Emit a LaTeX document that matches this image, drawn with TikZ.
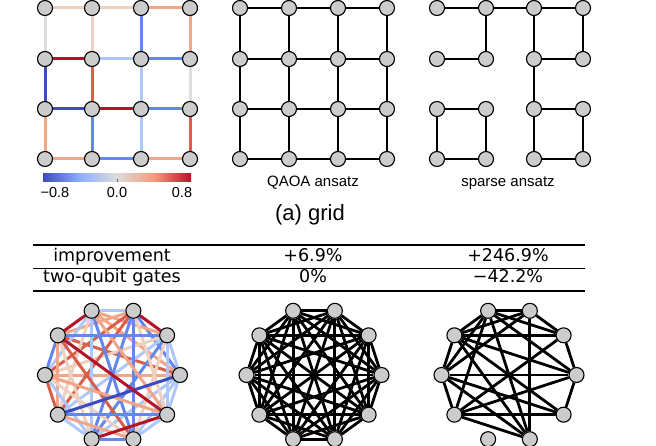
\documentclass[tikz,border=0pt]{standalone}
\usepackage{fontspec}
\setmainfont{Liberation Sans}
\newfontfamily\tabfont{DejaVu Sans}
\usetikzlibrary{backgrounds}
\definecolor{cwBiii}{RGB}{59,76,192}
\definecolor{cwBii}{RGB}{100,135,235}
\definecolor{cwBi}{RGB}{175,200,250}
\definecolor{cwBmid}{RGB}{141,176,254}
\definecolor{cwO}{RGB}{221,221,221}
\definecolor{cwRo}{RGB}{238,208,192}
\definecolor{cwRi}{RGB}{242,165,135}
\definecolor{cwRmid}{RGB}{244,154,123}
\definecolor{cwRii}{RGB}{215,95,75}
\definecolor{cwRiii}{RGB}{180,20,40}
\definecolor{qgray}{RGB}{204,204,204}
\pgfdeclarehorizontalshading{coolwarm}{100bp}{color(0bp)=(cwBiii); color(25bp)=(cwBiii);
  color(37.5bp)=(cwBmid); color(50bp)=(cwO); color(62.5bp)=(cwRmid);
  color(75bp)=(cwRiii); color(100bp)=(cwRiii)}
\tikzset{
  qubit/.style={circle, draw=black, fill=qgray, line width=1.1pt, inner sep=0pt, minimum size=15pt},
  link/.style={line width=2.8pt, black},
  clink/.style={line width=3pt},
  capt/.style={font=\fontsize{15}{18}\selectfont},
  ticklab/.style={font=\fontsize{14.5}{17}\selectfont},
  cell/.style={font=\tabfont\fontsize{17.5}{20}\selectfont, inner sep=0pt, anchor=base},
}
\begin{document}
\begin{tikzpicture}[x=1pt, y=-1pt]
  \useasboundingbox (0,0) rectangle (656,446);
  \clip (0,0) rectangle (656,446);
  \foreach \r/\y in {0/8,1/59,2/109,3/159}
    \foreach \c/\gx/\qx/\sx in {0/45/240/437,1/92/289/486,2/141/338/534,3/190/387/583} {
      \node[qubit] (g\r\c) at (\gx,\y) {};
      \node[qubit] (q\r\c) at (\qx,\y) {};
      \node[qubit] (s\r\c) at (\sx,\y) {};
    }
  \foreach \i in {0,...,9} {
    \node[qubit] (a\i) at ([shift={(112.5,375)}]{-36*\i}:67.5) {};
    \node[qubit] (b\i) at ([shift={(314,375)}]{-36*\i}:67.5) {};
    \node[qubit] (c\i) at ([shift={(509,375)}]{-36*\i}:67.5) {};
  }
  \begin{scope}[on background layer]
    \foreach \a/\b/\col in {g00/g01/cwRo, g01/g02/cwRo, g02/g03/cwRi,
        g10/g11/cwRiii, g11/g12/cwBi, g12/g13/cwBii,
        g20/g21/cwBiii, g21/g22/cwRiii, g22/g23/cwBii,
        g30/g31/cwRi, g31/g32/cwBii, g32/g33/cwRi,
        g00/g10/cwO, g10/g20/cwBiii, g20/g30/cwRi,
        g01/g11/cwRo, g11/g21/cwRii, g21/g31/cwBii,
        g02/g12/cwBii, g12/g22/cwBi, g22/g32/cwBi,
        g03/g13/cwRi, g13/g23/cwO, g23/g33/cwRii}
      \draw[clink, \col] (\a) -- (\b);
    \foreach \r in {0,...,3}
      \foreach \c/\d in {0/1,1/2,2/3} {
        \draw[link] (q\r\c) -- (q\r\d);
        \draw[link] (q\c\r) -- (q\d\r);
      }
    \foreach \a/\b in {s00/s01, s01/s02, s02/s03, s01/s11, s10/s11, s02/s12,
        s12/s22, s22/s32, s03/s13, s12/s13, s20/s21, s30/s31, s20/s30,
        s21/s31, s22/s23, s32/s33, s23/s33}
      \draw[link] (\a) -- (\b);
    \foreach \a/\b/\col in {0/1/cwBi, 0/2/cwBii, 0/3/cwRi, 0/4/cwRii, 0/5/cwRi,
        0/7/cwBi, 0/8/cwBi, 0/9/cwBi, 1/3/cwRi, 1/5/cwRo,
        1/6/cwBi, 1/7/cwBii, 1/8/cwRo, 1/9/cwBi, 2/3/cwBi, 2/4/cwRi, 2/5/cwRii,
        2/6/cwRii, 2/7/cwBii, 2/8/cwBii, 2/9/cwRo, 3/5/cwBi, 3/6/cwRo,
        3/7/cwBi, 3/8/cwBii, 3/9/cwRi, 4/5/cwBii, 4/6/cwRi, 4/7/cwRo, 4/8/cwRii,
        5/6/cwRii, 5/7/cwBi, 5/8/cwRo, 5/9/cwRi, 6/7/cwBi, 6/8/cwRi,
        6/9/cwBii, 7/8/cwBii, 8/9/cwBi, 1/4/cwBii, 0/6/cwBiii, 1/2/cwRiii,
        3/4/cwRiii, 4/9/cwRiii, 7/9/cwRiii}
      \draw[clink, \col] (a\a) -- (a\b);
    \foreach \i in {0,...,8} {
      \pgfmathtruncatemacro\jstart{\i+1}
      \foreach \j in {\jstart,...,9}
        \draw[link] (b\i) -- (b\j);
    }
    \foreach \a/\b in {2/3, 3/4, 4/5, 5/6, 0/9, 1/2, 0/1, 2/8, 1/4, 0/5,
        6/9, 6/8, 5/8, 4/8, 5/9, 4/9, 0/6, 1/6, 2/5, 3/5, 2/4, 0/4,
        1/3, 0/3, 3/8, 3/6}
      \draw[link] (c\a) -- (c\b);
  \end{scope}
  \shade[shading=coolwarm] (43,174) rectangle (191,182);
  \foreach \x in {53,117,182}
    \draw[line width=0.6pt, black!60] (\x,179) -- (\x,182);
  \node[ticklab] (cbmin) at (55,193) {−0.8};
  \node[ticklab] (cbmid) at (117,193) {0.0};
  \node[ticklab] (cbmax) at (182,193) {0.8};
  \node[capt] (qaoa) at (313,183) {QAOA ansatz};
  \node[capt] (sparse) at (508,183) {sparse ansatz};
  \node[font=\fontsize{22}{26}\selectfont] (title) at (310,215) {(a) grid};
  \draw[line width=1.6pt] (33,245) -- (585,245);
  \draw[line width=0.9pt] (33,268) -- (585,268);
  \draw[line width=1.6pt] (33,291) -- (585,291);
  \node[cell] (imp) at (112,262) {improvement};
  \node[cell] (impq) at (313,262) {+6.9\%};
  \node[cell] (imps) at (508,262) {+246.9\%};
  \node[cell] (gate) at (112,283) {two-qubit gates};
  \node[cell] (gateq) at (313,283) {0\%};
  \node[cell] (gates) at (508,283) {−42.2\%};
\end{tikzpicture}
\end{document}
